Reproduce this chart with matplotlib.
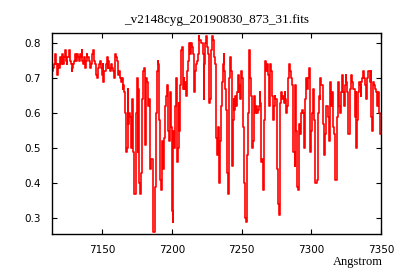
import numpy as np
import matplotlib
matplotlib.use("Agg")
import matplotlib.pyplot as plt

title = "_v2148cyg_20190830_873_31.fits"
xlabel = "Angstrom"
wave_start = 7114.0
wave_end = 7350.0
xticks = [7150, 7200, 7250, 7300, 7350]
yticks = [0.3, 0.4, 0.5, 0.6, 0.7, 0.8]

flux_a = [0.75, 0.72, 0.73, 0.74, 0.77, 0.74, 0.73, 0.71, 0.74, 0.73, 0.76, 0.74,
          0.75, 0.77, 0.74, 0.76, 0.78, 0.75, 0.74, 0.76, 0.76, 0.78, 0.75, 0.74,
          0.72, 0.73, 0.74, 0.75, 0.77, 0.75, 0.75, 0.77, 0.76, 0.75, 0.77, 0.76,
          0.78, 0.75, 0.74, 0.76, 0.73, 0.75, 0.77, 0.76, 0.76, 0.75, 0.73, 0.74,
          0.76, 0.77, 0.78, 0.75, 0.74, 0.71, 0.70, 0.72, 0.73, 0.74, 0.75, 0.73,
          0.71, 0.74, 0.69, 0.72, 0.72, 0.74,
          0.76, 0.73, 0.75, 0.73, 0.72, 0.74, 0.73, 0.72, 0.72, 0.70, 0.77, 0.76,
          0.75, 0.73, 0.71, 0.72, 0.70, 0.69, 0.70, 0.67, 0.68, 0.66, 0.60, 0.49]

flux_b = [0.50, 0.67, 0.57, 0.60,
          0.59, 0.50, 0.64, 0.62, 0.49, 0.37, 0.37, 0.60, 0.70, 0.49, 0.67, 0.40,
          0.37, 0.43, 0.64, 0.70, 0.72, 0.73, 0.51, 0.70, 0.69, 0.63, 0.62, 0.64,
          0.44, 0.47, 0.47, 0.42, 0.26, 0.26, 0.39, 0.60, 0.72, 0.75, 0.74, 0.58,
          0.41, 0.38, 0.52, 0.44, 0.44, 0.53, 0.62, 0.65, 0.68, 0.57, 0.55, 0.52,
          0.66, 0.56, 0.32, 0.29, 0.55, 0.50, 0.62, 0.70, 0.46, 0.50, 0.63, 0.55,
          0.68, 0.78, 0.79, 0.67]

flux_c = [0.70, 0.67, 0.69, 0.65, 0.72, 0.75, 0.77, 0.80, 0.77, 0.80, 0.79, 0.77,
          0.70, 0.66, 0.72, 0.74, 0.75, 0.77, 0.82, 0.81, 0.81, 0.80, 0.80, 0.77,
          0.64, 0.74, 0.80, 0.82, 0.79, 0.77, 0.65, 0.63, 0.64, 0.78, 0.82, 0.81,
          0.80, 0.76, 0.74, 0.53, 0.48, 0.56, 0.45, 0.40, 0.52, 0.62, 0.69, 0.74,
          0.77, 0.72, 0.67, 0.61, 0.43, 0.37, 0.52, 0.70, 0.76, 0.72, 0.45, 0.58,
          0.64, 0.61, 0.65, 0.62, 0.66, 0.71, 0.66, 0.68, 0.64, 0.72, 0.70, 0.56,
          0.48, 0.40, 0.30, 0.29, 0.48, 0.60, 0.74, 0.78, 0.70, 0.65, 0.50, 0.52,
          0.60, 0.65, 0.60, 0.62, 0.60, 0.61, 0.62, 0.66, 0.63, 0.46, 0.47, 0.38,
          0.58, 0.73, 0.75, 0.72, 0.74, 0.71, 0.62, 0.74, 0.74, 0.72, 0.65, 0.58,
          0.62, 0.65, 0.64, 0.64, 0.44, 0.34, 0.31, 0.47, 0.63, 0.66, 0.64, 0.65,
          0.63, 0.66, 0.64, 0.60, 0.62, 0.70, 0.74, 0.73, 0.72, 0.70, 0.68, 0.49,
          0.49, 0.45, 0.68, 0.55, 0.39, 0.38, 0.57, 0.55]

flux_d = [0.54, 0.60, 0.61, 0.60, 0.50, 0.55, 0.64, 0.70, 0.67, 0.70, 0.73, 0.64,
          0.49, 0.55, 0.60, 0.67, 0.58, 0.42, 0.40, 0.40, 0.41, 0.60, 0.65, 0.64,
          0.70, 0.68, 0.68, 0.57, 0.48, 0.51, 0.54, 0.62, 0.62, 0.59, 0.52, 0.63,
          0.69, 0.62, 0.66, 0.56, 0.54, 0.52, 0.41, 0.41, 0.59, 0.69, 0.62, 0.60,
          0.60, 0.66, 0.71, 0.66, 0.62, 0.68, 0.71, 0.69, 0.66, 0.54, 0.54, 0.67,
          0.68, 0.71, 0.69, 0.67, 0.67, 0.59, 0.66, 0.50, 0.58, 0.66, 0.69, 0.68,
          0.65, 0.69, 0.70, 0.72, 0.70, 0.68, 0.68, 0.64, 0.70, 0.72, 0.72, 0.69,
          0.72, 0.59, 0.55, 0.69, 0.68, 0.67, 0.67, 0.66, 0.62, 0.66, 0.60, 0.54,
          0.54]

flux = np.array(flux_a + flux_b + flux_c + flux_d)
wave = np.linspace(wave_start, wave_end, len(flux))

fig = plt.figure(figsize=(4.0, 2.8), dpi=100)
ax = fig.add_axes([0.13, 0.164, 0.8225, 0.718])
ax.plot(wave, flux, drawstyle='steps-mid', color='#ff0000', lw=1.2)
ax.set_xlim(wave_start, wave_end)
ax.set_ylim(0.255, 0.829)
ax.set_xticks(xticks)
ax.set_yticks(yticks)
ax.set_yticklabels([f"{v:.1f}" for v in yticks])
ax.tick_params(direction='in', top=True, right=True, length=3.5, width=0.8,
               labelsize=7.5, pad=8, colors='black')
for s in ax.spines.values():
    s.set_linewidth(1.0)
ax.set_title(title, family='Liberation Serif', fontsize=9.5, pad=7)
fig.text(383/400, 1 - 262/280, xlabel, family='Liberation Serif', fontsize=9,
         ha='right', va='center')
fig.savefig("out.png", dpi=100)
